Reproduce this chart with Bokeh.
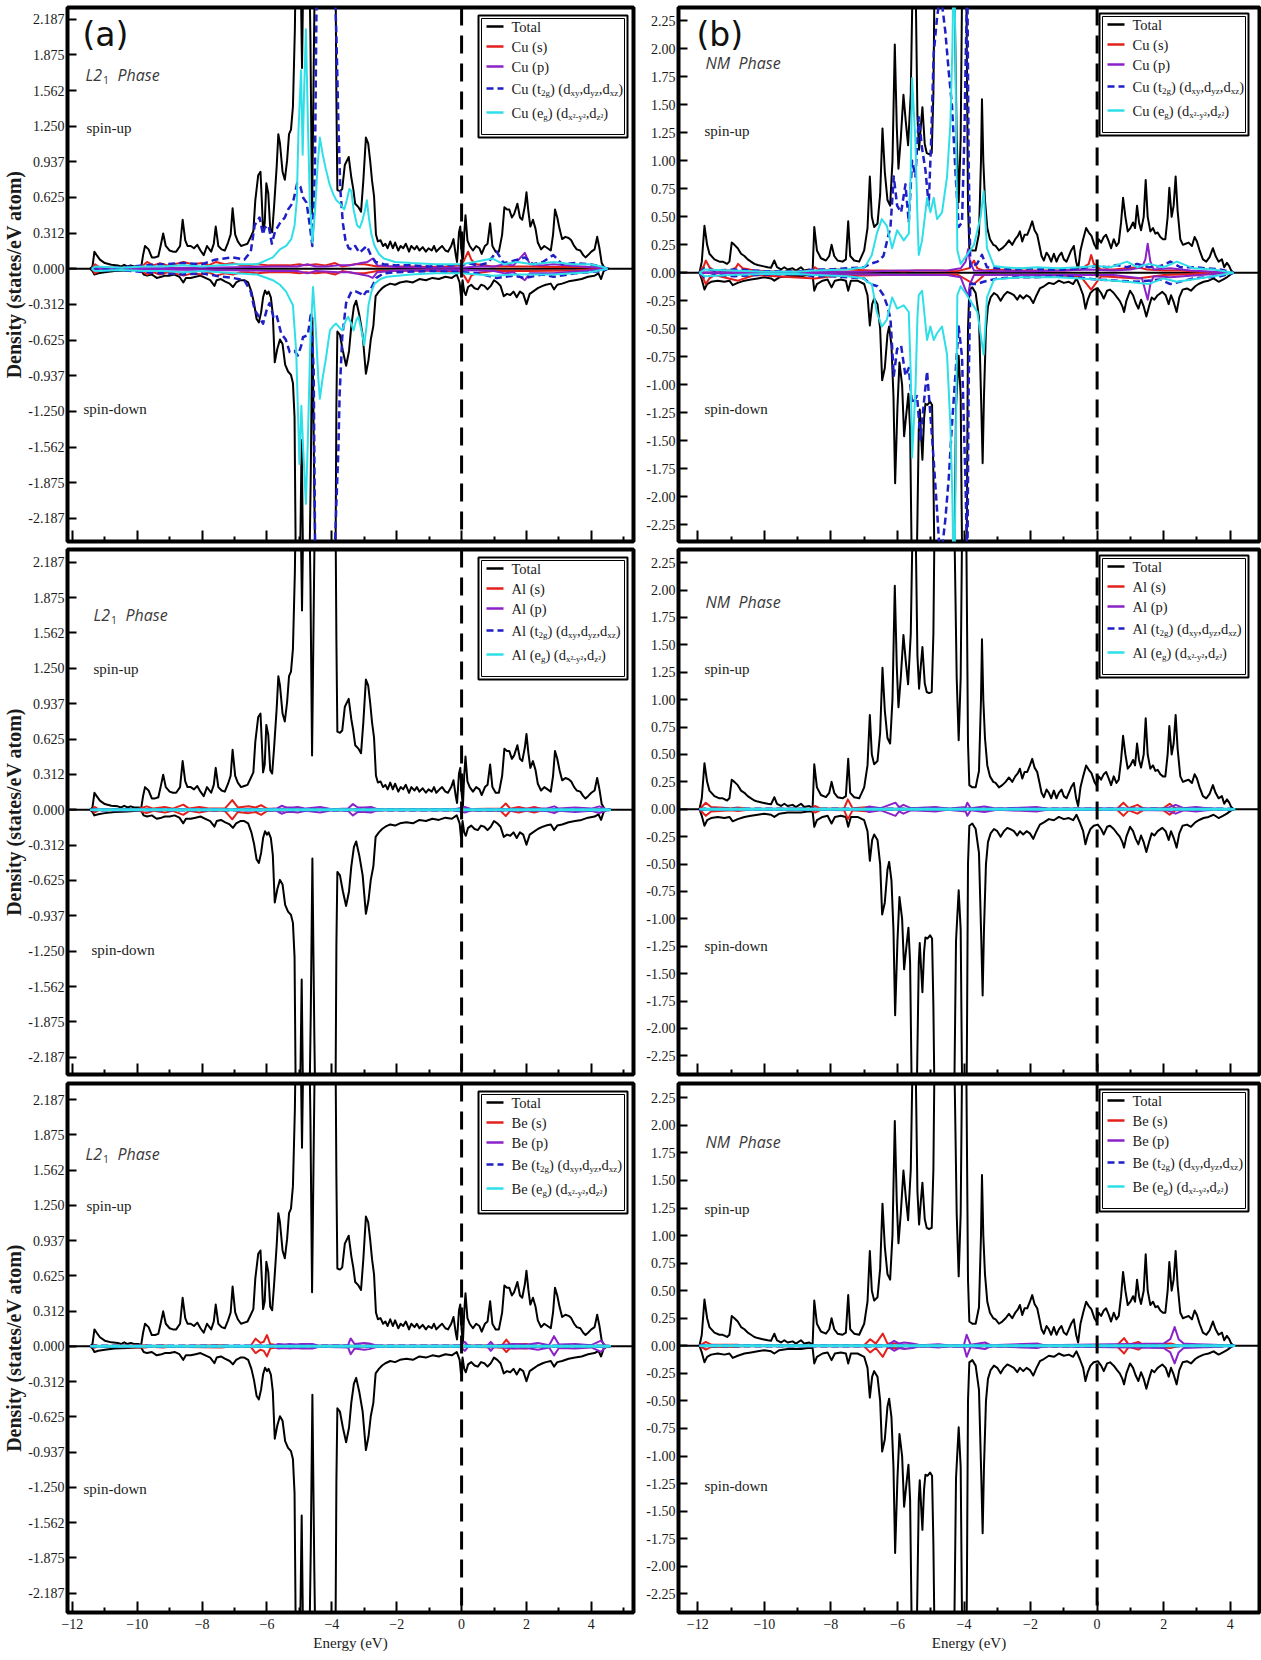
from bokeh.plotting import figure
from bokeh.models import Range1d, FixedTicker, Span, Label
from bokeh.layouts import column, row
from bokeh.embed import file_html
from bokeh.resources import INLINE

# ---------------- ticks / labels ----------------
X_TICKS = [-12, -10, -8, -6, -4, -2, 0, 2, 4]
X_MINOR_L21 = [-11, -9, -7, -5, -3, -1, 1, 3, 5]
X_MINOR_NM = [-11, -9, -7, -5, -3, -1, 1, 3]
Y_TICKS_L21 = [2.1875, 1.875, 1.5625, 1.25, 0.9375, 0.625, 0.3125, 0.0,
               -0.3125, -0.625, -0.9375, -1.25, -1.5625, -1.875, -2.1875]
Y_LABELS_L21 = ["2.187", "1.875", "1.562", "1.250", "0.937", "0.625", "0.312", "0.000",
                "-0.312", "-0.625", "-0.937", "-1.250", "-1.562", "-1.875", "-2.187"]
Y_TICKS_NM = [2.25, 2.0, 1.75, 1.5, 1.25, 1.0, 0.75, 0.5, 0.25, 0.0,
              -0.25, -0.5, -0.75, -1.0, -1.25, -1.5, -1.75, -2.0, -2.25]
Y_LABELS_NM = ["2.25", "2.00", "1.75", "1.50", "1.25", "1.00", "0.75", "0.50", "0.25", "0.00",
               "-0.25", "-0.50", "-0.75", "-1.00", "-1.25", "-1.50", "-1.75", "-2.00", "-2.25"]
ATOMS = ["Cu", "Al", "Be"]
COMPONENTS = ["Total", "s", "p", "t2g", "eg"]

# ---------------- total DOS, L2_1 phase ----------------
L21_TOTAL_UP = [(-11.45,0.0),(-11.38,0.02),(-11.32,0.15),(-11.25,0.12),(-11.15,0.08),(-11.0,0.05),(-10.8,0.035),(-10.6,0.03),(-10.5,0.02),(-10.4,0.035),(-10.3,0.02),(-10.2,0.03),(-10.1,0.02),(-9.95,0.02),(-9.88,0.01),(-9.82,0.12),(-9.76,0.2),(-9.65,0.17),(-9.55,0.1),(-9.45,0.1),(-9.35,0.11),(-9.28,0.2),(-9.2,0.31),(-9.12,0.2),(-9.0,0.16),(-8.9,0.15),(-8.8,0.15),(-8.68,0.2),(-8.6,0.43),(-8.52,0.25),(-8.45,0.2),(-8.35,0.2),(-8.25,0.18),(-8.15,0.21),(-8.05,0.16),(-7.95,0.12),(-7.85,0.2),(-7.72,0.15),(-7.64,0.22),(-7.58,0.37),(-7.5,0.2),(-7.4,0.17),(-7.3,0.16),(-7.2,0.23),(-7.12,0.3),(-7.06,0.53),(-6.98,0.3),(-6.9,0.24),(-6.8,0.2),(-6.7,0.21),(-6.6,0.22),(-6.5,0.28),(-6.42,0.33),(-6.36,0.6),(-6.27,0.82),(-6.2,0.85),(-6.16,0.6),(-6.12,0.33),(-6.07,0.4),(-6.02,0.75),(-5.96,0.66),(-5.9,0.35),(-5.84,0.32),(-5.78,0.55),(-5.7,0.9),(-5.65,1.18),(-5.6,1.1),(-5.52,0.85),(-5.45,0.78),(-5.38,0.95),(-5.32,1.18),(-5.26,1.22),(-5.2,1.42),(-5.14,2.1),(-5.1,3.0),(-5.03,3.0),(-4.96,2.6),(-4.92,1.76),(-4.87,2.8),(-4.8,3.2),(-4.72,3.2),(-4.66,2.0),(-4.61,0.48),(-4.55,2.0),(-4.5,3.2),(-4.2,3.5),(-3.9,3.2),(-3.86,1.5),(-3.83,0.69),(-3.75,0.68),(-3.68,0.7),(-3.6,0.91),(-3.48,0.98),(-3.4,0.8),(-3.34,0.7),(-3.28,0.57),(-3.18,0.54),(-3.1,0.5),(-3.03,0.77),(-2.95,1.15),(-2.88,1.1),(-2.82,0.95),(-2.76,0.77),(-2.7,0.64),(-2.64,0.3),(-2.58,0.24),(-2.5,0.25),(-2.42,0.2),(-2.35,0.22),(-2.28,0.18),(-2.2,0.24),(-2.12,0.18),(-2.05,0.23),(-1.95,0.16),(-1.88,0.2),(-1.8,0.18),(-1.72,0.22),(-1.62,0.15),(-1.55,0.2),(-1.45,0.17),(-1.38,0.2),(-1.3,0.16),(-1.2,0.19),(-1.1,0.15),(-1.02,0.18),(-0.92,0.16),(-0.85,0.2),(-0.78,0.15),(-0.68,0.18),(-0.6,0.2),(-0.5,0.16),(-0.42,0.15),(-0.32,0.2),(-0.25,0.26),(-0.18,0.12),(-0.14,0.06),(-0.08,0.32),(-0.04,0.37),(0.0,0.15),(0.04,0.03),(0.08,0.3),(0.12,0.47),(0.18,0.25),(0.25,0.2),(0.35,0.16),(0.45,0.2),(0.55,0.18),(0.62,0.13),(0.72,0.2),(0.8,0.22),(0.88,0.4),(0.95,0.2),(1.05,0.15),(1.15,0.15),(1.25,0.3),(1.32,0.54),(1.4,0.52),(1.47,0.52),(1.55,0.45),(1.62,0.48),(1.72,0.57),(1.8,0.45),(1.87,0.43),(1.95,0.55),(2.0,0.67),(2.06,0.5),(2.12,0.37),(2.2,0.43),(2.28,0.35),(2.35,0.23),(2.45,0.17),(2.55,0.2),(2.65,0.18),(2.75,0.16),(2.82,0.3),(2.88,0.52),(2.95,0.45),(3.02,0.35),(3.1,0.26),(3.2,0.28),(3.3,0.27),(3.38,0.25),(3.47,0.2),(3.55,0.17),(3.66,0.16),(3.75,0.12),(3.82,0.1),(3.9,0.12),(4.0,0.15),(4.1,0.17),(4.18,0.28),(4.25,0.18),(4.32,0.05),(4.4,0.01),(4.55,0.0)]
L21_TOTAL_DN = [(-11.45,0.0),(-11.38,-0.02),(-11.32,-0.05),(-11.2,-0.04),(-11.0,-0.03),(-10.7,-0.02),(-10.3,-0.015),(-10.0,-0.01),(-9.88,-0.01),(-9.8,-0.05),(-9.7,-0.06),(-9.55,-0.05),(-9.4,-0.08),(-9.25,-0.07),(-9.15,-0.06),(-9.0,-0.06),(-8.85,-0.05),(-8.7,-0.07),(-8.58,-0.12),(-8.5,-0.08),(-8.35,-0.08),(-8.2,-0.07),(-8.05,-0.06),(-7.9,-0.08),(-7.75,-0.1),(-7.62,-0.15),(-7.55,-0.1),(-7.42,-0.09),(-7.3,-0.11),(-7.15,-0.13),(-7.05,-0.16),(-6.95,-0.12),(-6.82,-0.1),(-6.7,-0.1),(-6.58,-0.12),(-6.48,-0.2),(-6.4,-0.3),(-6.32,-0.44),(-6.25,-0.47),(-6.18,-0.38),(-6.12,-0.25),(-6.06,-0.19),(-6.0,-0.22),(-5.95,-0.2),(-5.88,-0.25),(-5.82,-0.4),(-5.76,-0.82),(-5.68,-0.7),(-5.6,-0.62),(-5.52,-0.66),(-5.44,-0.84),(-5.35,-0.9),(-5.26,-0.93),(-5.2,-1.0),(-5.15,-1.3),(-5.1,-3.0),(-5.0,-3.0),(-4.93,-1.5),(-4.87,-3.0),(-4.72,-3.2),(-4.65,-1.8),(-4.6,-0.43),(-4.54,-2.0),(-4.48,-3.2),(-4.2,-3.5),(-3.9,-3.2),(-3.86,-1.2),(-3.83,-0.55),(-3.75,-0.58),(-3.66,-0.72),(-3.56,-0.85),(-3.47,-0.72),(-3.4,-0.5),(-3.32,-0.33),(-3.25,-0.28),(-3.15,-0.41),(-3.05,-0.58),(-2.95,-0.92),(-2.87,-0.8),(-2.8,-0.62),(-2.72,-0.5),(-2.65,-0.24),(-2.55,-0.2),(-2.45,-0.17),(-2.35,-0.15),(-2.2,-0.13),(-2.05,-0.14),(-1.9,-0.12),(-1.7,-0.11),(-1.5,-0.12),(-1.3,-0.09),(-1.1,-0.1),(-0.9,-0.08),(-0.7,-0.09),(-0.5,-0.07),(-0.3,-0.08),(-0.15,-0.05),(-0.06,-0.12),(-0.02,-0.24),(0.03,-0.1),(0.08,-0.2),(0.13,-0.23),(0.2,-0.16),(0.3,-0.14),(0.4,-0.17),(0.5,-0.18),(0.6,-0.14),(0.7,-0.15),(0.8,-0.18),(0.9,-0.15),(1.0,-0.1),(1.1,-0.12),(1.2,-0.15),(1.3,-0.24),(1.4,-0.22),(1.5,-0.23),(1.6,-0.2),(1.7,-0.25),(1.8,-0.2),(1.9,-0.22),(2.0,-0.31),(2.1,-0.22),(2.2,-0.2),(2.35,-0.17),(2.5,-0.15),(2.6,-0.14),(2.75,-0.13),(2.85,-0.18),(2.95,-0.14),(3.1,-0.13),(3.3,-0.11),(3.5,-0.1),(3.7,-0.09),(3.9,-0.07),(4.1,-0.06),(4.22,-0.04),(4.3,-0.09),(4.38,-0.02),(4.5,0.0)]

# ---------------- total DOS, NM phase ----------------
NM_TOTAL_UP = [(-11.95,0.0),(-11.88,0.1),(-11.8,0.42),(-11.72,0.25),(-11.65,0.17),(-11.5,0.12),(-11.35,0.1),(-11.25,0.1),(-11.12,0.08),(-11.05,0.1),(-10.98,0.27),(-10.9,0.25),(-10.8,0.22),(-10.7,0.17),(-10.6,0.15),(-10.5,0.12),(-10.4,0.1),(-10.3,0.08),(-10.2,0.07),(-10.05,0.06),(-9.9,0.05),(-9.8,0.045),(-9.7,0.11),(-9.62,0.05),(-9.5,0.03),(-9.4,0.05),(-9.3,0.03),(-9.15,0.04),(-9.05,0.02),(-8.9,0.05),(-8.8,0.02),(-8.65,0.03),(-8.55,0.01),(-8.5,0.41),(-8.42,0.2),(-8.3,0.13),(-8.15,0.11),(-8.05,0.15),(-7.98,0.25),(-7.9,0.15),(-7.8,0.11),(-7.65,0.1),(-7.55,0.12),(-7.48,0.46),(-7.42,0.15),(-7.3,0.11),(-7.15,0.1),(-7.0,0.2),(-6.9,0.4),(-6.83,0.86),(-6.77,0.5),(-6.7,0.41),(-6.6,0.44),(-6.52,0.7),(-6.45,1.29),(-6.38,0.9),(-6.3,0.65),(-6.22,0.6),(-6.15,1.0),(-6.08,2.04),(-6.02,1.3),(-5.97,0.93),(-5.9,1.2),(-5.82,1.59),(-5.75,1.35),(-5.68,1.14),(-5.6,1.6),(-5.55,2.5),(-5.5,3.0),(-5.45,2.5),(-5.4,1.4),(-5.35,1.1),(-5.3,1.3),(-5.25,1.48),(-5.18,1.15),(-5.12,1.07),(-5.05,1.06),(-4.97,1.07),(-4.92,1.6),(-4.88,2.8),(-4.8,3.2),(-4.5,3.5),(-4.3,2.8),(-4.22,1.2),(-4.16,0.63),(-4.1,1.2),(-4.05,2.8),(-3.98,3.2),(-3.93,2.5),(-3.88,0.6),(-3.84,0.22),(-3.75,0.2),(-3.65,0.2),(-3.55,0.35),(-3.49,1.0),(-3.46,1.55),(-3.42,1.0),(-3.37,0.65),(-3.3,0.4),(-3.22,0.3),(-3.12,0.25),(-3.05,0.24),(-2.95,0.2),(-2.85,0.22),(-2.75,0.25),(-2.65,0.29),(-2.55,0.25),(-2.46,0.3),(-2.38,0.33),(-2.32,0.37),(-2.25,0.28),(-2.18,0.34),(-2.1,0.34),(-2.02,0.4),(-1.95,0.46),(-1.88,0.38),(-1.8,0.34),(-1.73,0.24),(-1.67,0.15),(-1.6,0.11),(-1.52,0.18),(-1.45,0.15),(-1.38,0.1),(-1.3,0.17),(-1.22,0.1),(-1.15,0.15),(-1.07,0.18),(-1.0,0.12),(-0.92,0.1),(-0.85,0.15),(-0.78,0.2),(-0.7,0.24),(-0.63,0.1),(-0.57,0.03),(-0.5,0.2),(-0.42,0.3),(-0.33,0.4),(-0.25,0.36),(-0.17,0.33),(-0.08,0.25),(-0.02,0.22),(0.05,0.3),(0.12,0.27),(0.2,0.32),(0.27,0.34),(0.35,0.28),(0.42,0.22),(0.5,0.3),(0.58,0.24),(0.65,0.27),(0.72,0.45),(0.78,0.67),(0.85,0.5),(0.92,0.37),(1.0,0.4),(1.08,0.45),(1.14,0.4),(1.2,0.6),(1.26,0.45),(1.32,0.38),(1.4,0.5),(1.46,0.83),(1.52,0.5),(1.6,0.37),(1.68,0.4),(1.75,0.35),(1.82,0.36),(1.9,0.32),(1.98,0.3),(2.05,0.3),(2.12,0.5),(2.17,0.76),(2.24,0.5),(2.3,0.6),(2.36,0.86),(2.42,0.55),(2.5,0.3),(2.58,0.25),(2.66,0.26),(2.75,0.27),(2.85,0.24),(2.93,0.32),(3.0,0.28),(3.08,0.2),(3.18,0.12),(3.28,0.1),(3.38,0.14),(3.48,0.22),(3.56,0.15),(3.65,0.1),(3.75,0.12),(3.82,0.05),(3.9,0.09),(3.97,0.06),(4.03,0.02),(4.1,0.0)]
NM_TOTAL_DN = [(-11.95,0.0),(-11.88,-0.06),(-11.8,-0.15),(-11.72,-0.1),(-11.6,-0.08),(-11.4,-0.07),(-11.2,-0.08),(-11.05,-0.07),(-10.95,-0.11),(-10.8,-0.09),(-10.6,-0.07),(-10.4,-0.06),(-10.2,-0.05),(-10.0,-0.04),(-9.8,-0.05),(-9.7,-0.07),(-9.55,-0.04),(-9.3,-0.03),(-9.1,-0.03),(-8.9,-0.03),(-8.7,-0.02),(-8.55,-0.02),(-8.5,-0.16),(-8.42,-0.1),(-8.25,-0.07),(-8.1,-0.06),(-7.98,-0.13),(-7.88,-0.07),(-7.7,-0.06),(-7.55,-0.07),(-7.48,-0.16),(-7.4,-0.07),(-7.2,-0.07),(-7.0,-0.1),(-6.9,-0.2),(-6.83,-0.47),(-6.76,-0.28),(-6.7,-0.23),(-6.6,-0.28),(-6.52,-0.5),(-6.46,-0.96),(-6.38,-0.85),(-6.3,-0.55),(-6.25,-0.48),(-6.18,-0.65),(-6.12,-1.1),(-6.07,-1.88),(-6.0,-1.2),(-5.94,-0.8),(-5.86,-1.0),(-5.8,-1.46),(-5.73,-1.25),(-5.67,-1.08),(-5.62,-1.4),(-5.57,-2.6),(-5.5,-3.0),(-5.42,-2.6),(-5.36,-1.4),(-5.33,-1.22),(-5.29,-1.45),(-5.25,-1.67),(-5.2,-1.3),(-5.16,-1.17),(-5.1,-1.18),(-5.02,-1.15),(-4.96,-1.18),(-4.92,-1.8),(-4.88,-2.8),(-4.8,-3.2),(-4.5,-3.5),(-4.3,-2.8),(-4.24,-1.2),(-4.16,-0.74),(-4.1,-1.1),(-4.05,-2.8),(-3.98,-3.2),(-3.92,-2.5),(-3.88,-0.5),(-3.84,-0.15),(-3.75,-0.13),(-3.65,-0.18),(-3.55,-0.4),(-3.48,-1.2),(-3.44,-1.7),(-3.4,-1.1),(-3.34,-0.5),(-3.28,-0.3),(-3.2,-0.22),(-3.1,-0.18),(-3.0,-0.2),(-2.9,-0.25),(-2.8,-0.2),(-2.7,-0.17),(-2.62,-0.18),(-2.5,-0.2),(-2.4,-0.24),(-2.32,-0.2),(-2.22,-0.23),(-2.12,-0.2),(-2.02,-0.22),(-1.92,-0.27),(-1.82,-0.2),(-1.72,-0.14),(-1.6,-0.12),(-1.45,-0.09),(-1.3,-0.1),(-1.15,-0.07),(-1.0,-0.09),(-0.85,-0.08),(-0.72,-0.1),(-0.62,-0.05),(-0.52,-0.12),(-0.42,-0.2),(-0.35,-0.32),(-0.28,-0.24),(-0.2,-0.18),(-0.1,-0.15),(0.02,-0.14),(0.12,-0.18),(0.2,-0.23),(0.3,-0.16),(0.39,-0.15),(0.5,-0.18),(0.6,-0.22),(0.68,-0.25),(0.76,-0.3),(0.81,-0.35),(0.88,-0.25),(0.99,-0.16),(1.08,-0.2),(1.16,-0.27),(1.24,-0.32),(1.32,-0.24),(1.4,-0.3),(1.48,-0.39),(1.56,-0.3),(1.64,-0.22),(1.72,-0.24),(1.82,-0.2),(1.96,-0.17),(2.06,-0.2),(2.15,-0.28),(2.22,-0.2),(2.3,-0.26),(2.39,-0.35),(2.47,-0.22),(2.57,-0.15),(2.7,-0.14),(2.82,-0.16),(2.95,-0.12),(3.05,-0.1),(3.2,-0.08),(3.35,-0.07),(3.5,-0.05),(3.65,-0.08),(3.78,-0.06),(3.9,-0.04),(4.03,-0.01),(4.1,0.0)]

# ---------------- Cu partial DOS, L2_1 ----------------
CU_L21_S_UP = [(-11.4,0.0),(-11.3,0.04),(-11.15,0.01),(-10.5,0.01),(-9.9,0.01),(-9.7,0.06),(-9.5,0.03),(-9.3,0.05),(-9.07,0.03),(-8.85,0.04),(-8.57,0.06),(-8.3,0.04),(-8.0,0.05),(-7.8,0.03),(-7.57,0.06),(-7.3,0.04),(-7.05,0.05),(-6.8,0.03),(-6.57,0.03),(-6.3,0.04),(-5.94,0.03),(-5.6,0.03),(-5.31,0.03),(-5.0,0.04),(-4.81,0.03),(-4.5,0.04),(-4.2,0.03),(-3.9,0.05),(-3.68,0.02),(-3.3,0.04),(-2.99,0.04),(-2.6,0.02),(-2.0,0.02),(-1.55,0.02),(-1.0,0.015),(-0.5,0.02),(0.0,0.03),(0.12,0.1),(0.2,0.15),(0.3,0.08),(0.45,0.04),(0.95,0.02),(1.5,0.02),(2.0,0.02),(2.8,0.015),(3.5,0.015),(4.3,0.01),(4.5,0.0)]
CU_L21_S_DN = [(-11.4,0.0),(-11.3,-0.04),(-11.15,-0.01),(-10.5,-0.01),(-9.9,-0.01),(-9.7,-0.05),(-9.5,-0.03),(-9.3,-0.05),(-9.07,-0.03),(-8.85,-0.04),(-8.57,-0.06),(-8.3,-0.04),(-8.0,-0.05),(-7.8,-0.03),(-7.57,-0.06),(-7.3,-0.04),(-7.05,-0.05),(-6.8,-0.03),(-6.57,-0.03),(-6.3,-0.04),(-5.94,-0.03),(-5.6,-0.03),(-5.31,-0.03),(-5.0,-0.04),(-4.81,-0.03),(-4.5,-0.04),(-4.2,-0.03),(-3.9,-0.05),(-3.68,-0.02),(-3.3,-0.04),(-2.99,-0.04),(-2.6,-0.02),(-2.0,-0.02),(-1.0,-0.015),(0.0,-0.03),(0.12,-0.08),(0.2,-0.12),(0.3,-0.06),(0.45,-0.04),(0.95,-0.02),(2.0,-0.02),(3.5,-0.015),(4.5,0.0)]
CU_L21_P_UP = [(-11.4,0.0),(-10.0,0.005),(-8.0,0.01),(-6.5,0.015),(-5.8,0.02),(-5.3,0.02),(-5.06,0.02),(-4.75,0.04),(-4.5,0.02),(-4.19,0.02),(-3.8,0.03),(-3.43,0.03),(-3.1,0.05),(-2.9,0.06),(-2.74,0.09),(-2.6,0.03),(-2.0,0.015),(-1.0,0.01),(0.0,0.01),(0.5,0.02),(1.0,0.02),(1.33,0.04),(1.6,0.03),(1.95,0.14),(2.1,0.04),(2.5,0.03),(2.83,0.04),(3.2,0.03),(3.71,0.02),(4.3,0.01),(4.5,0.0)]
CU_L21_P_DN = [(-11.4,0.0),(-10.0,-0.005),(-8.0,-0.01),(-6.5,-0.015),(-5.8,-0.02),(-5.06,-0.02),(-4.75,-0.04),(-4.5,-0.02),(-3.8,-0.03),(-3.43,-0.03),(-3.1,-0.05),(-2.9,-0.06),(-2.74,-0.08),(-2.6,-0.03),(-2.0,-0.015),(0.0,-0.01),(1.0,-0.02),(1.33,-0.04),(1.6,-0.03),(1.95,-0.1),(2.1,-0.04),(2.83,-0.04),(3.71,-0.02),(4.5,0.0)]
CU_L21_T2G_UP = [(-11.4,0.0),(-11.3,0.015),(-10.5,0.01),(-9.8,0.03),(-9.2,0.04),(-8.6,0.05),(-8.0,0.04),(-7.6,0.08),(-7.05,0.1),(-6.7,0.08),(-6.5,0.15),(-6.38,0.38),(-6.23,0.45),(-6.12,0.3),(-6.07,0.36),(-5.95,0.38),(-5.85,0.22),(-5.75,0.33),(-5.6,0.4),(-5.45,0.45),(-5.35,0.52),(-5.2,0.58),(-5.07,0.75),(-4.97,0.72),(-4.88,0.62),(-4.78,0.58),(-4.68,0.38),(-4.6,0.2),(-4.52,0.9),(-4.45,3.0),(-4.3,3.2),(-4.0,3.0),(-3.9,2.4),(-3.86,2.05),(-3.8,1.3),(-3.74,0.7),(-3.66,0.4),(-3.58,0.25),(-3.48,0.18),(-3.38,0.17),(-3.28,0.2),(-3.15,0.14),(-3.0,0.18),(-2.92,0.2),(-2.8,0.12),(-2.65,0.06),(-2.4,0.04),(-2.0,0.03),(-1.5,0.03),(-1.0,0.02),(-0.5,0.03),(0.0,0.03),(0.2,0.05),(0.5,0.03),(0.8,0.05),(1.08,0.15),(1.3,0.05),(1.6,0.07),(1.95,0.1),(2.2,0.04),(2.5,0.06),(2.83,0.12),(3.1,0.04),(3.5,0.05),(3.96,0.04),(4.3,0.02),(4.5,0.0)]
CU_L21_T2G_DN = [(-11.4,0.0),(-11.3,-0.015),(-10.5,-0.01),(-9.8,-0.03),(-9.2,-0.04),(-8.6,-0.05),(-8.0,-0.04),(-7.6,-0.06),(-7.05,-0.08),(-6.7,-0.1),(-6.5,-0.2),(-6.38,-0.36),(-6.25,-0.42),(-6.12,-0.48),(-6.0,-0.35),(-5.92,-0.3),(-5.8,-0.42),(-5.71,-0.4),(-5.56,-0.57),(-5.42,-0.62),(-5.3,-0.73),(-5.15,-0.72),(-5.05,-0.76),(-4.95,-0.68),(-4.89,-0.6),(-4.74,-0.58),(-4.64,-0.38),(-4.56,-0.9),(-4.5,-3.0),(-4.3,-3.2),(-4.0,-3.0),(-3.9,-2.4),(-3.86,-2.05),(-3.8,-1.6),(-3.76,-1.1),(-3.68,-0.6),(-3.56,-0.3),(-3.4,-0.2),(-3.25,-0.2),(-3.1,-0.22),(-3.04,-0.24),(-2.94,-0.2),(-2.84,-0.2),(-2.63,-0.08),(-2.4,-0.04),(-2.0,-0.03),(-1.0,-0.02),(0.0,-0.03),(0.5,-0.04),(1.08,-0.08),(1.6,-0.06),(1.95,-0.08),(2.5,-0.05),(2.83,-0.07),(3.5,-0.04),(4.3,-0.02),(4.5,0.0)]
CU_L21_EG_UP = [(-11.4,0.0),(-11.3,0.02),(-10.5,0.01),(-9.8,0.02),(-9.2,0.02),(-8.6,0.03),(-8.0,0.02),(-7.0,0.04),(-6.3,0.04),(-5.82,0.1),(-5.6,0.17),(-5.41,0.2),(-5.25,0.26),(-5.15,0.38),(-5.08,0.6),(-5.03,1.2),(-4.95,1.74),(-4.9,1.0),(-4.86,1.5),(-4.8,2.1),(-4.74,1.3),(-4.68,0.6),(-4.6,0.23),(-4.52,0.5),(-4.44,0.9),(-4.37,1.15),(-4.28,1.0),(-4.19,0.88),(-4.07,0.74),(-3.95,0.65),(-3.86,0.6),(-3.74,0.57),(-3.62,0.52),(-3.54,0.6),(-3.46,0.7),(-3.4,0.68),(-3.33,0.52),(-3.22,0.38),(-3.14,0.36),(-3.06,0.42),(-2.99,0.5),(-2.92,0.6),(-2.86,0.45),(-2.78,0.3),(-2.68,0.2),(-2.55,0.13),(-2.4,0.09),(-2.05,0.06),(-1.55,0.05),(-0.8,0.04),(0.0,0.04),(0.4,0.06),(0.95,0.09),(1.3,0.04),(1.7,0.06),(2.2,0.04),(2.83,0.06),(3.4,0.04),(3.96,0.04),(4.3,0.02),(4.5,0.0)]
CU_L21_EG_DN = [(-11.4,0.0),(-11.3,-0.02),(-10.5,-0.01),(-9.8,-0.02),(-9.2,-0.02),(-8.6,-0.03),(-8.0,-0.02),(-7.0,-0.04),(-6.3,-0.05),(-5.82,-0.1),(-5.6,-0.14),(-5.41,-0.2),(-5.2,-0.32),(-5.1,-0.72),(-5.05,-1.2),(-5.0,-1.71),(-4.94,-1.2),(-4.88,-1.6),(-4.8,-2.06),(-4.74,-1.5),(-4.66,-0.6),(-4.58,-0.16),(-4.5,-0.5),(-4.42,-0.95),(-4.37,-1.14),(-4.28,-0.95),(-4.19,-0.8),(-4.06,-0.54),(-3.95,-0.5),(-3.87,-0.48),(-3.75,-0.52),(-3.68,-0.54),(-3.58,-0.46),(-3.5,-0.42),(-3.4,-0.48),(-3.33,-0.54),(-3.25,-0.45),(-3.18,-0.42),(-3.08,-0.55),(-3.0,-0.67),(-2.93,-0.5),(-2.87,-0.32),(-2.78,-0.2),(-2.68,-0.13),(-2.5,-0.09),(-2.3,-0.07),(-1.55,-0.05),(-0.8,-0.04),(0.0,-0.04),(0.5,-0.05),(0.95,-0.06),(1.7,-0.05),(2.83,-0.05),(3.96,-0.03),(4.5,0.0)]

# ---------------- Cu partial DOS, NM ----------------
CU_NM_S_UP = [(-11.95,0.0),(-11.82,0.06),(-11.76,0.11),(-11.65,0.05),(-11.5,0.02),(-11.0,0.02),(-10.85,0.05),(-10.79,0.08),(-10.65,0.04),(-10.3,0.02),(-9.5,0.01),(-8.6,0.015),(-8.48,0.05),(-8.35,0.02),(-7.98,0.03),(-7.5,0.03),(-6.8,0.02),(-6.42,0.02),(-5.8,0.015),(-5.45,0.02),(-4.8,0.02),(-4.2,0.015),(-3.85,0.04),(-3.7,0.11),(-3.6,0.04),(-3.39,0.02),(-3.0,0.03),(-2.5,0.02),(-2.0,0.02),(-1.5,0.02),(-1.0,0.02),(-0.5,0.03),(-0.25,0.08),(-0.18,0.16),(-0.1,0.08),(0.12,0.03),(0.5,0.03),(0.9,0.04),(1.21,0.05),(1.5,0.03),(2.0,0.02),(2.5,0.02),(3.0,0.01),(4.1,0.0)]
CU_NM_S_DN = [(-11.95,0.0),(-11.82,-0.06),(-11.76,-0.1),(-11.65,-0.05),(-11.5,-0.02),(-10.79,-0.07),(-10.3,-0.02),(-8.48,-0.05),(-7.98,-0.03),(-6.42,-0.02),(-5.45,-0.02),(-4.2,-0.015),(-3.7,-0.1),(-3.39,-0.02),(-2.0,-0.02),(-0.5,-0.03),(-0.18,-0.15),(0.12,-0.03),(1.21,-0.05),(2.0,-0.02),(3.0,-0.01),(4.1,0.0)]
CU_NM_P_UP = [(-11.95,0.0),(-11.0,0.005),(-9.0,0.005),(-7.0,0.01),(-6.0,0.02),(-5.5,0.02),(-5.0,0.02),(-4.5,0.02),(-4.1,0.04),(-3.95,0.1),(-3.88,0.21),(-3.82,0.1),(-3.7,0.02),(-3.0,0.015),(-2.0,0.015),(-1.0,0.02),(-0.24,0.03),(0.5,0.02),(1.0,0.03),(1.35,0.05),(1.45,0.12),(1.52,0.26),(1.6,0.1),(1.7,0.03),(2.2,0.04),(2.8,0.02),(3.5,0.01),(4.1,0.0)]
CU_NM_P_DN = [(-11.95,0.0),(-9.0,-0.005),(-6.0,-0.02),(-4.5,-0.02),(-4.1,-0.04),(-3.88,-0.21),(-3.82,-0.1),(-3.7,-0.02),(-1.0,-0.02),(0.5,-0.02),(1.35,-0.05),(1.52,-0.24),(1.6,-0.1),(1.7,-0.03),(2.2,-0.04),(3.5,-0.01),(4.1,0.0)]
CU_NM_T2G_UP = [(-11.95,0.0),(-11.8,0.04),(-11.5,0.02),(-10.9,0.03),(-10.0,0.015),(-9.0,0.01),(-8.5,0.03),(-8.0,0.03),(-7.5,0.04),(-7.0,0.05),(-6.82,0.08),(-6.6,0.1),(-6.42,0.15),(-6.3,0.3),(-6.21,0.41),(-6.11,0.86),(-6.01,0.6),(-5.89,0.54),(-5.76,0.79),(-5.66,0.45),(-5.56,1.0),(-5.46,0.86),(-5.36,1.39),(-5.26,1.11),(-5.16,0.92),(-5.06,0.6),(-4.99,1.17),(-4.91,1.96),(-4.81,2.28),(-4.71,2.5),(-4.62,2.3),(-4.56,2.15),(-4.46,1.8),(-4.36,1.49),(-4.26,0.92),(-4.16,0.41),(-4.06,0.45),(-3.99,1.2),(-3.95,1.9),(-3.9,2.6),(-3.86,1.0),(-3.81,0.05),(-3.7,0.07),(-3.61,0.08),(-3.46,0.16),(-3.31,0.05),(-3.0,0.04),(-2.5,0.03),(-2.0,0.04),(-1.5,0.03),(-1.0,0.03),(-0.5,0.04),(0.0,0.06),(0.3,0.05),(0.6,0.07),(0.9,0.05),(1.2,0.08),(1.55,0.05),(1.9,0.06),(2.2,0.1),(2.5,0.05),(2.9,0.05),(3.3,0.04),(3.7,0.03),(4.1,0.0)]
CU_NM_T2G_DN = [(-11.95,0.0),(-11.8,-0.04),(-11.5,-0.02),(-10.9,-0.03),(-10.0,-0.015),(-9.0,-0.01),(-8.5,-0.03),(-8.0,-0.03),(-7.5,-0.04),(-7.0,-0.05),(-6.82,-0.1),(-6.6,-0.12),(-6.42,-0.2),(-6.3,-0.3),(-6.21,-0.41),(-6.11,-0.92),(-6.01,-0.68),(-5.89,-0.65),(-5.76,-0.92),(-5.66,-0.85),(-5.56,-1.17),(-5.41,-1.1),(-5.31,-1.49),(-5.21,-1.17),(-5.11,-0.88),(-4.99,-1.35),(-4.91,-1.68),(-4.81,-2.12),(-4.71,-2.6),(-4.56,-2.2),(-4.46,-1.84),(-4.36,-1.35),(-4.26,-0.92),(-4.16,-0.48),(-4.06,-0.75),(-3.99,-1.5),(-3.95,-1.93),(-3.9,-2.7),(-3.86,-1.0),(-3.81,-0.1),(-3.61,-0.1),(-3.41,-0.08),(-3.0,-0.05),(-2.5,-0.04),(-2.0,-0.04),(-1.0,-0.03),(0.0,-0.06),(0.6,-0.07),(1.2,-0.08),(1.9,-0.06),(2.2,-0.1),(2.9,-0.05),(3.7,-0.03),(4.1,0.0)]
CU_NM_EG_UP = [(-11.95,0.0),(-11.8,0.03),(-11.0,0.02),(-10.0,0.01),(-9.0,0.01),(-8.5,0.02),(-7.5,0.03),(-7.0,0.05),(-6.92,0.08),(-6.77,0.16),(-6.62,0.35),(-6.47,0.48),(-6.32,0.42),(-6.16,0.22),(-6.01,0.38),(-5.81,0.29),(-5.66,0.35),(-5.6,0.9),(-5.56,1.74),(-5.5,1.4),(-5.46,1.17),(-5.4,0.5),(-5.36,0.16),(-5.26,0.29),(-5.11,0.67),(-5.01,0.54),(-4.91,0.67),(-4.81,0.48),(-4.66,0.54),(-4.51,0.86),(-4.41,1.33),(-4.35,2.0),(-4.3,3.0),(-4.26,2.0),(-4.2,0.2),(-4.1,0.08),(-3.91,0.16),(-3.7,0.25),(-3.5,0.5),(-3.41,0.73),(-3.31,0.22),(-3.1,0.06),(-2.8,0.05),(-2.3,0.04),(-1.8,0.05),(-1.2,0.04),(-0.5,0.05),(0.0,0.06),(0.4,0.05),(0.9,0.1),(1.2,0.05),(1.55,0.08),(2.0,0.05),(2.4,0.1),(2.9,0.04),(3.5,0.03),(4.1,0.0)]
CU_NM_EG_DN = [(-11.95,0.0),(-11.8,-0.03),(-11.0,-0.02),(-10.0,-0.01),(-9.0,-0.01),(-8.5,-0.02),(-7.5,-0.03),(-7.0,-0.05),(-6.92,-0.08),(-6.77,-0.1),(-6.62,-0.35),(-6.47,-0.48),(-6.32,-0.42),(-6.16,-0.22),(-6.01,-0.32),(-5.81,-0.29),(-5.66,-0.35),(-5.6,-0.9),(-5.56,-1.65),(-5.5,-1.3),(-5.46,-1.05),(-5.4,-0.4),(-5.36,-0.2),(-5.26,-0.16),(-5.11,-0.6),(-5.01,-0.48),(-4.91,-0.6),(-4.81,-0.54),(-4.66,-0.48),(-4.51,-0.73),(-4.41,-1.36),(-4.35,-2.0),(-4.3,-3.0),(-4.26,-2.0),(-4.2,-0.2),(-4.1,-0.12),(-3.91,-0.2),(-3.6,-0.35),(-3.5,-0.55),(-3.41,-0.73),(-3.31,-0.22),(-3.1,-0.06),(-2.8,-0.05),(-2.3,-0.04),(-1.2,-0.04),(0.0,-0.06),(0.9,-0.08),(1.55,-0.1),(2.0,-0.05),(2.4,-0.08),(3.5,-0.03),(4.1,0.0)]

# ---------------- Al partial DOS ----------------
AL_L21_S_UP = [(-11.4,0.0),(-11.32,0.025),(-11.2,0.005),(-10.0,0.005),(-9.71,0.03),(-9.5,0.01),(-9.15,0.025),(-8.9,0.01),(-8.58,0.045),(-8.4,0.01),(-8.08,0.025),(-7.8,0.01),(-7.3,0.01),(-7.07,0.085),(-6.9,0.02),(-6.57,0.03),(-6.35,0.02),(-6.18,0.04),(-6.0,0.01),(-5.0,0.005),(0.0,0.005),(1.2,0.01),(1.36,0.055),(1.5,0.01),(1.76,0.025),(2.0,0.01),(2.24,0.025),(2.5,0.005),(4.5,0.0)]
AL_L21_S_DN = [(-11.4,0.0),(-11.32,-0.025),(-11.2,-0.005),(-10.0,-0.005),(-9.71,-0.03),(-9.5,-0.01),(-9.15,-0.025),(-8.9,-0.01),(-8.58,-0.045),(-8.4,-0.01),(-8.08,-0.025),(-7.8,-0.01),(-7.3,-0.01),(-7.07,-0.085),(-6.9,-0.02),(-6.57,-0.03),(-6.35,-0.02),(-6.18,-0.045),(-6.0,-0.01),(-5.0,-0.005),(0.0,-0.005),(1.2,-0.01),(1.36,-0.055),(1.5,-0.01),(1.76,-0.025),(2.0,-0.01),(2.24,-0.025),(2.5,-0.005),(4.5,0.0)]
AL_L21_P_UP = [(-11.4,0.0),(-6.0,0.005),(-5.7,0.01),(-5.55,0.035),(-5.4,0.02),(-5.2,0.02),(-5.05,0.025),(-4.8,0.01),(-4.36,0.025),(-4.0,0.005),(-3.5,0.01),(-3.35,0.05),(-3.2,0.02),(-3.0,0.02),(-2.79,0.025),(-2.6,0.005),(-0.2,0.005),(0.1,0.025),(0.3,0.005),(2.6,0.01),(2.86,0.03),(3.0,0.01),(3.5,0.02),(4.0,0.01),(4.25,0.03),(4.5,0.0)]
AL_L21_P_DN = [(-11.4,0.0),(-6.0,-0.005),(-5.7,-0.01),(-5.55,-0.035),(-5.4,-0.02),(-5.2,-0.02),(-5.05,-0.025),(-4.8,-0.01),(-4.36,-0.025),(-4.0,-0.005),(-3.5,-0.01),(-3.35,-0.05),(-3.2,-0.02),(-3.0,-0.02),(-2.79,-0.025),(-2.6,-0.005),(-0.2,-0.005),(0.1,-0.025),(0.3,-0.005),(2.6,-0.01),(2.86,-0.03),(3.0,-0.01),(3.5,-0.02),(4.0,-0.01),(4.25,-0.03),(4.5,0.0)]
AL_NM_S_UP = [(-11.95,0.0),(-11.76,0.06),(-11.6,0.02),(-11.0,0.01),(-10.79,0.015),(-10.5,0.005),(-8.6,0.005),(-8.48,0.03),(-8.3,0.005),(-7.6,0.01),(-7.49,0.09),(-7.35,0.01),(-6.85,0.02),(-6.6,0.005),(0.6,0.005),(0.79,0.06),(0.95,0.01),(1.21,0.04),(1.4,0.005),(2.0,0.01),(2.18,0.05),(2.35,0.01),(4.1,0.0)]
AL_NM_S_DN = [(-11.95,0.0),(-11.76,-0.06),(-11.6,-0.02),(-11.0,-0.01),(-10.79,-0.015),(-10.5,-0.005),(-8.6,-0.005),(-8.48,-0.03),(-8.3,-0.005),(-7.6,-0.01),(-7.49,-0.09),(-7.35,-0.01),(-6.85,-0.02),(-6.6,-0.005),(0.6,-0.005),(0.79,-0.06),(0.95,-0.01),(1.21,-0.04),(1.4,-0.005),(2.0,-0.01),(2.18,-0.05),(2.35,-0.01),(4.1,0.0)]
AL_NM_P_UP = [(-11.95,0.0),(-7.0,0.005),(-6.85,0.025),(-6.5,0.01),(-6.06,0.06),(-5.95,0.02),(-5.82,0.04),(-5.6,0.01),(-4.85,0.02),(-4.5,0.005),(-3.95,0.02),(-3.9,0.06),(-3.8,0.01),(-3.39,0.025),(-3.0,0.005),(-1.82,0.02),(-1.5,0.005),(2.1,0.01),(2.36,0.04),(2.6,0.01),(2.97,0.02),(3.3,0.01),(4.1,0.0)]
AL_NM_P_DN = [(-11.95,0.0),(-7.0,-0.005),(-6.85,-0.025),(-6.5,-0.01),(-6.06,-0.06),(-5.95,-0.02),(-5.82,-0.04),(-5.6,-0.01),(-4.85,-0.02),(-4.5,-0.005),(-3.95,-0.02),(-3.9,-0.06),(-3.8,-0.01),(-3.39,-0.025),(-3.0,-0.005),(-1.82,-0.02),(-1.5,-0.005),(2.1,-0.01),(2.36,-0.04),(2.6,-0.01),(2.97,-0.02),(3.3,-0.01),(4.1,0.0)]

# ---------------- Be partial DOS ----------------
BE_L21_S_UP = [(-11.4,0.0),(-11.32,0.012),(-11.2,0.003),(-9.75,0.01),(-9.6,0.003),(-9.2,0.01),(-9.0,0.003),(-7.4,0.01),(-7.2,0.003),(-6.5,0.005),(-6.35,0.068),(-6.2,0.03),(-6.1,0.04),(-6.0,0.1),(-5.9,0.02),(-5.6,0.005),(0.0,0.005),(1.25,0.01),(1.38,0.06),(1.5,0.015),(2.0,0.02),(2.2,0.005),(4.5,0.0)]
BE_L21_S_DN = [(-11.4,0.0),(-11.32,-0.012),(-11.2,-0.003),(-9.75,-0.01),(-9.6,-0.003),(-9.2,-0.01),(-9.0,-0.003),(-7.4,-0.01),(-7.2,-0.003),(-6.5,-0.005),(-6.35,-0.06),(-6.2,-0.03),(-6.1,-0.04),(-6.0,-0.09),(-5.9,-0.02),(-5.6,-0.005),(0.0,-0.005),(1.25,-0.01),(1.38,-0.05),(1.5,-0.015),(2.0,-0.02),(2.2,-0.005),(4.5,0.0)]
BE_L21_P_UP = [(-11.4,0.0),(-5.8,0.005),(-5.65,0.02),(-5.45,0.015),(-5.3,0.02),(-5.1,0.015),(-4.95,0.02),(-4.6,0.02),(-4.4,0.005),(-3.5,0.01),(-3.42,0.07),(-3.3,0.02),(-3.0,0.03),(-2.85,0.025),(-2.6,0.005),(-0.05,0.005),(0.1,0.04),(0.2,0.005),(0.8,0.005),(0.9,0.04),(1.0,0.005),(1.6,0.02),(2.0,0.015),(2.35,0.03),(2.7,0.01),(2.85,0.09),(3.0,0.015),(3.5,0.02),(4.0,0.01),(4.3,0.05),(4.45,0.0)]
BE_L21_P_DN = [(-11.4,0.0),(-5.8,-0.005),(-5.65,-0.02),(-5.45,-0.015),(-5.3,-0.02),(-5.1,-0.015),(-4.95,-0.02),(-4.6,-0.02),(-4.4,-0.005),(-3.5,-0.01),(-3.42,-0.07),(-3.3,-0.02),(-3.0,-0.03),(-2.85,-0.025),(-2.6,-0.005),(-0.05,-0.005),(0.1,-0.04),(0.2,-0.005),(0.8,-0.005),(0.9,-0.04),(1.0,-0.005),(1.6,-0.02),(2.0,-0.015),(2.35,-0.03),(2.7,-0.01),(2.85,-0.08),(3.0,-0.015),(3.5,-0.02),(4.0,-0.01),(4.3,-0.05),(4.45,0.0)]
BE_NM_S_UP = [(-11.95,0.0),(-11.76,0.035),(-11.6,0.01),(-10.82,0.01),(-10.6,0.003),(-7.0,0.005),(-6.82,0.06),(-6.65,0.02),(-6.44,0.11),(-6.3,0.02),(-6.01,0.02),(-5.8,0.005),(0.6,0.005),(0.81,0.07),(0.95,0.01),(1.24,0.035),(1.4,0.005),(2.21,0.02),(2.4,0.005),(4.1,0.0)]
BE_NM_S_DN = [(-11.95,0.0),(-11.76,-0.035),(-11.6,-0.01),(-10.82,-0.01),(-10.6,-0.003),(-7.0,-0.005),(-6.82,-0.06),(-6.65,-0.02),(-6.44,-0.1),(-6.3,-0.02),(-6.01,-0.02),(-5.8,-0.005),(0.6,-0.005),(0.81,-0.07),(0.95,-0.01),(1.24,-0.035),(1.4,-0.005),(2.21,-0.02),(2.4,-0.005),(4.1,0.0)]
BE_NM_P_UP = [(-11.95,0.0),(-6.3,0.005),(-6.1,0.045),(-5.95,0.02),(-5.8,0.03),(-5.55,0.02),(-5.3,0.005),(-4.76,0.015),(-4.5,0.005),(-4.0,0.01),(-3.92,0.1),(-3.8,0.01),(-3.37,0.03),(-3.2,0.005),(-1.8,0.02),(-1.6,0.005),(2.0,0.02),(2.2,0.06),(2.33,0.17),(2.45,0.06),(2.6,0.02),(2.99,0.015),(3.5,0.01),(4.1,0.0)]
BE_NM_P_DN = [(-11.95,0.0),(-6.3,-0.005),(-6.1,-0.045),(-5.95,-0.02),(-5.8,-0.03),(-5.55,-0.02),(-5.3,-0.005),(-4.76,-0.015),(-4.5,-0.005),(-4.0,-0.01),(-3.92,-0.1),(-3.8,-0.01),(-3.37,-0.03),(-3.2,-0.005),(-1.8,-0.02),(-1.6,-0.005),(2.0,-0.02),(2.2,-0.06),(2.33,-0.16),(2.45,-0.06),(2.6,-0.02),(2.99,-0.015),(3.5,-0.01),(4.1,0.0)]

# d-states of Al and Be: flat, essentially zero
L21_FLAT_UP = [(-11.45,0.0),(-11.3,0.004),(0.0,0.004),(4.5,0.004),(4.6,0.0)]
L21_FLAT_DN = [(-11.45,0.0),(-11.3,-0.004),(0.0,-0.004),(4.5,-0.004),(4.6,0.0)]
NM_FLAT_UP = [(-11.95,0.0),(-11.8,0.004),(0.0,0.004),(4.0,0.004),(4.15,0.0)]
NM_FLAT_DN = [(-11.95,0.0),(-11.8,-0.004),(0.0,-0.004),(4.0,-0.004),(4.15,0.0)]

SERIES = {
    (0, 0): [(L21_TOTAL_UP, L21_TOTAL_DN), (CU_L21_S_UP, CU_L21_S_DN), (CU_L21_P_UP, CU_L21_P_DN), (CU_L21_T2G_UP, CU_L21_T2G_DN), (CU_L21_EG_UP, CU_L21_EG_DN)],
    (0, 1): [(NM_TOTAL_UP, NM_TOTAL_DN), (CU_NM_S_UP, CU_NM_S_DN), (CU_NM_P_UP, CU_NM_P_DN), (CU_NM_T2G_UP, CU_NM_T2G_DN), (CU_NM_EG_UP, CU_NM_EG_DN)],
    (1, 0): [(L21_TOTAL_UP, L21_TOTAL_DN), (AL_L21_S_UP, AL_L21_S_DN), (AL_L21_P_UP, AL_L21_P_DN), (L21_FLAT_UP, L21_FLAT_DN), (L21_FLAT_UP, L21_FLAT_DN)],
    (1, 1): [(NM_TOTAL_UP, NM_TOTAL_DN), (AL_NM_S_UP, AL_NM_S_DN), (AL_NM_P_UP, AL_NM_P_DN), (NM_FLAT_UP, NM_FLAT_DN), (NM_FLAT_UP, NM_FLAT_DN)],
    (2, 0): [(L21_TOTAL_UP, L21_TOTAL_DN), (BE_L21_S_UP, BE_L21_S_DN), (BE_L21_P_UP, BE_L21_P_DN), (L21_FLAT_UP, L21_FLAT_DN), (L21_FLAT_UP, L21_FLAT_DN)],
    (2, 1): [(NM_TOTAL_UP, NM_TOTAL_DN), (BE_NM_S_UP, BE_NM_S_DN), (BE_NM_P_UP, BE_NM_P_DN), (NM_FLAT_UP, NM_FLAT_DN), (NM_FLAT_UP, NM_FLAT_DN)],
}

# ---------------- styles / layout ----------------
COLORS = ["#000000", "#e3211c", "#8a22c8", "#1f1fc6", "#2fdfe8"]
WIDTHS = [2, 2, 2, 2.5, 2]
DASHES = ["solid", "solid", "solid", "7 4", "solid"]

COLS = [
    dict(bl=64, fw=566, br=10, xr=(-12.15, 5.3), minor=X_MINOR_L21, yt=Y_TICKS_L21, yl=Y_LABELS_L21,
         box=(411, 8, 560, 130), tag="(a)", tagpos=(15, 27)),
    dict(bl=35, fw=581, br=5, xr=(-12.58, 4.88), minor=X_MINOR_NM, yt=Y_TICKS_NM, yl=Y_LABELS_NM,
         box=(421, 6, 570, 128), tag="(b)", tagpos=(18, 27)),
]
ROWS = [
    dict(bt=7, fh=534, bb=4, yr=[(-2.39, 2.29), (-2.40, 2.37)],
         phase=[(18, 67), (27, 55)], up=[(19, 120), (26, 123)], dn=[(16, 401), (26, 401)]),
    dict(bt=4, fh=525, bb=4, yr=[(-2.34, 2.30), (-2.42, 2.37)],
         phase=[(26, 65), (27, 52)], up=[(26, 119), (26, 119)], dn=[(24, 400), (26, 396)]),
    dict(bt=5, fh=529, bb=48, yr=[(-2.36, 2.33), (-2.42, 2.38)],
         phase=[(18, 70), (27, 58)], up=[(19, 122), (26, 125)], dn=[(16, 405), (26, 402)]),
]

TIMES_W = {' ': 250, '(': 333, ')': 333, ',': 250, '-': 333, '2': 500, '\u00b2': 300, 'A': 722, 'B': 667,
           'C': 667, 'T': 611, 'a': 444, 'd': 500, 'e': 444, 'g': 500, 'l': 278, 'o': 500, 'p': 500,
           's': 389, 't': 278, 'u': 500, 'x': 500, 'y': 500, 'z': 444}


def text_width(s, size):
    return sum(TIMES_W.get(c, 500) for c in s) * size / 1000.0


SERIF = "Liberation Serif"
MAIN_SIZE = 14.5
SUB_SIZE = 9
PHASE_COLOR = "#3a3a3a"


def make_panel(r, c):
    C = COLS[c]
    R = ROWS[r]
    xr = C["xr"]
    yr = R["yr"][c]
    fw, fh = C["fw"], R["fh"]
    p = figure(frame_width=fw, frame_height=fh,
               min_border_left=C["bl"], min_border_right=C["br"],
               min_border_top=R["bt"], min_border_bottom=R["bb"],
               x_range=Range1d(*xr), y_range=Range1d(*yr),
               output_backend="svg", toolbar_location=None, tools="")
    p.background_fill_color = "white"
    p.border_fill_color = "white"
    p.outline_line_color = "black"
    p.outline_line_width = 4
    p.xgrid.visible = False
    p.ygrid.visible = False

    def dx(px):
        return xr[0] + px / fw * (xr[1] - xr[0])

    def dy(py):
        return yr[1] - py / fh * (yr[1] - yr[0])

    # axes
    xa = p.xaxis[0]
    xa.ticker = FixedTicker(ticks=X_TICKS, minor_ticks=C["minor"])
    xa.axis_line_color = None
    xa.major_tick_in = 11
    xa.major_tick_out = 0
    xa.minor_tick_in = 5
    xa.minor_tick_out = 0
    xa.major_tick_line_width = 2
    xa.minor_tick_line_width = 2
    xa.major_tick_line_color = "black"
    xa.minor_tick_line_color = "black"
    if r < 2:
        xa.major_label_overrides = {t: "" for t in X_TICKS}
        xa.major_label_text_font_size = "1px"
        xa.major_label_standoff = 0
    else:
        xa.major_label_text_font = SERIF
        xa.major_label_text_font_size = "14px"
        xa.major_label_text_color = "#1a1a1a"
        xa.major_label_standoff = 6
        xa.axis_label = "Energy (eV)"
        xa.axis_label_text_font = SERIF
        xa.axis_label_text_font_size = "15px"
        xa.axis_label_text_font_style = "normal"
        xa.axis_label_text_color = "#1a1a1a"
        xa.axis_label_standoff = 3

    ya = p.yaxis[0]
    ya.ticker = FixedTicker(ticks=C["yt"], minor_ticks=[])
    ya.major_label_overrides = dict(zip(C["yt"], C["yl"]))
    ya.axis_line_color = None
    ya.major_tick_in = 9
    ya.major_tick_out = 0
    ya.minor_tick_in = 0
    ya.minor_tick_out = 0
    ya.major_tick_line_width = 2
    ya.major_tick_line_color = "black"
    ya.major_label_text_font = SERIF
    ya.major_label_text_font_size = "14px"
    ya.major_label_text_color = "#1a1a1a"
    ya.major_label_standoff = 3
    if c == 0:
        ya.axis_label = "Density (states/eV atom)"
        ya.axis_label_text_font = SERIF
        ya.axis_label_text_font_size = "20px"
        ya.axis_label_text_font_style = "bold"
        ya.axis_label_text_color = "#1a1a1a"
        ya.axis_label_standoff = 0

    # reference lines
    p.add_layout(Span(location=0, dimension="width", line_color="black", line_width=2, level="underlay"))

    # data
    for k, (up, dn) in enumerate(SERIES[(r, c)]):
        for data in (up, dn):
            p.line([e for e, _ in data], [v for _, v in data], line_color=COLORS[k],
                   line_width=WIDTHS[k], line_dash=DASHES[k], line_join="round")

    p.add_layout(Span(location=0, dimension="height", line_color="black", line_width=3, line_dash="18 10"))

    # legend box (drawn manually so that subscripts can be shown)
    bl, bt, br, bb = C["box"]
    p.quad(left=[dx(bl)], right=[dx(br)], top=[dy(bt)], bottom=[dy(bb)],
           fill_color="white", line_color="black", line_width=2)
    p.quad(left=[dx(bl + 3)], right=[dx(br - 3)], top=[dy(bt + 3)], bottom=[dy(bb - 3)],
           fill_color=None, line_color="black", line_width=1)
    atom = ATOMS[r]
    pieces = [
        [("Total", "n")],
        [(atom + " (s)", "n")],
        [(atom + " (p)", "n")],
        [(atom + " (t", "n"), ("2g", "b"), (") (d", "n"), ("xy", "b"), (",d", "n"), ("yz", "b"),
         (",d", "n"), ("xz", "b"), (")", "n")],
        [(atom + " (e", "n"), ("g", "b"), (") (d", "n"), ("x\u00b2-y\u00b2", "b"), (",d", "n"),
         ("z\u00b2", "b"), (")", "n")],
    ]
    offs = [11, 31, 51, 73, 97]
    for k in range(5):
        yy = bt + offs[k]
        p.line([dx(bl + 8), dx(bl + 25)], [dy(yy), dy(yy)], line_color=COLORS[k],
               line_width=2.5, line_dash=DASHES[k])
        cur = bl + 33
        for txt, kind in pieces[k]:
            size = MAIN_SIZE if kind == "n" else SUB_SIZE
            ty = yy if kind == "n" else yy + 4
            p.add_layout(Label(x=dx(cur), y=dy(ty), text=txt, text_font=SERIF,
                               text_font_size=f"{size}px", text_baseline="middle",
                               text_align="left", text_color="#1a1a1a"))
            cur += text_width(txt, size)

    # annotations
    px, py = R["phase"][c]
    if c == 0:
        p.add_layout(Label(x=dx(px), y=dy(py), text="L2", text_font="Open Sans", text_font_style="italic",
                           text_font_size="16px", text_baseline="middle", text_color=PHASE_COLOR))
        p.add_layout(Label(x=dx(px + 17.5), y=dy(py + 5), text="1", text_font="Open Sans",
                           text_font_size="10.5px", text_baseline="middle", text_color=PHASE_COLOR))
        p.add_layout(Label(x=dx(px + 32), y=dy(py), text="Phase", text_font="Open Sans",
                           text_font_style="italic", text_font_size="16px", text_baseline="middle",
                           text_color=PHASE_COLOR))
    else:
        p.add_layout(Label(x=dx(px), y=dy(py), text="NM", text_font="Open Sans", text_font_style="italic",
                           text_font_size="16px", text_baseline="middle", text_color=PHASE_COLOR))
        p.add_layout(Label(x=dx(px + 33), y=dy(py), text="Phase", text_font="Open Sans",
                           text_font_style="italic", text_font_size="16px", text_baseline="middle",
                           text_color=PHASE_COLOR))
    ux, uy = R["up"][c]
    p.add_layout(Label(x=dx(ux), y=dy(uy), text="spin-up", text_font=SERIF, text_font_size="15px",
                       text_baseline="middle", text_color="#1a1a1a"))
    sx, sy = R["dn"][c]
    p.add_layout(Label(x=dx(sx), y=dy(sy), text="spin-down", text_font=SERIF, text_font_size="15px",
                       text_baseline="middle", text_color="#1a1a1a"))
    if r == 0:
        tx, ty = C["tagpos"]
        p.add_layout(Label(x=dx(tx), y=dy(ty), text=C["tag"], text_font="DejaVu Sans",
                           text_font_size="33px", text_baseline="middle", text_color="#111111"))
    return p


rows_layout = []
for r in range(3):
    rows_layout.append(row(make_panel(r, 0), make_panel(r, 1)))
layout = column(*rows_layout)

open("out.html", "w").write(file_html(layout, INLINE))
